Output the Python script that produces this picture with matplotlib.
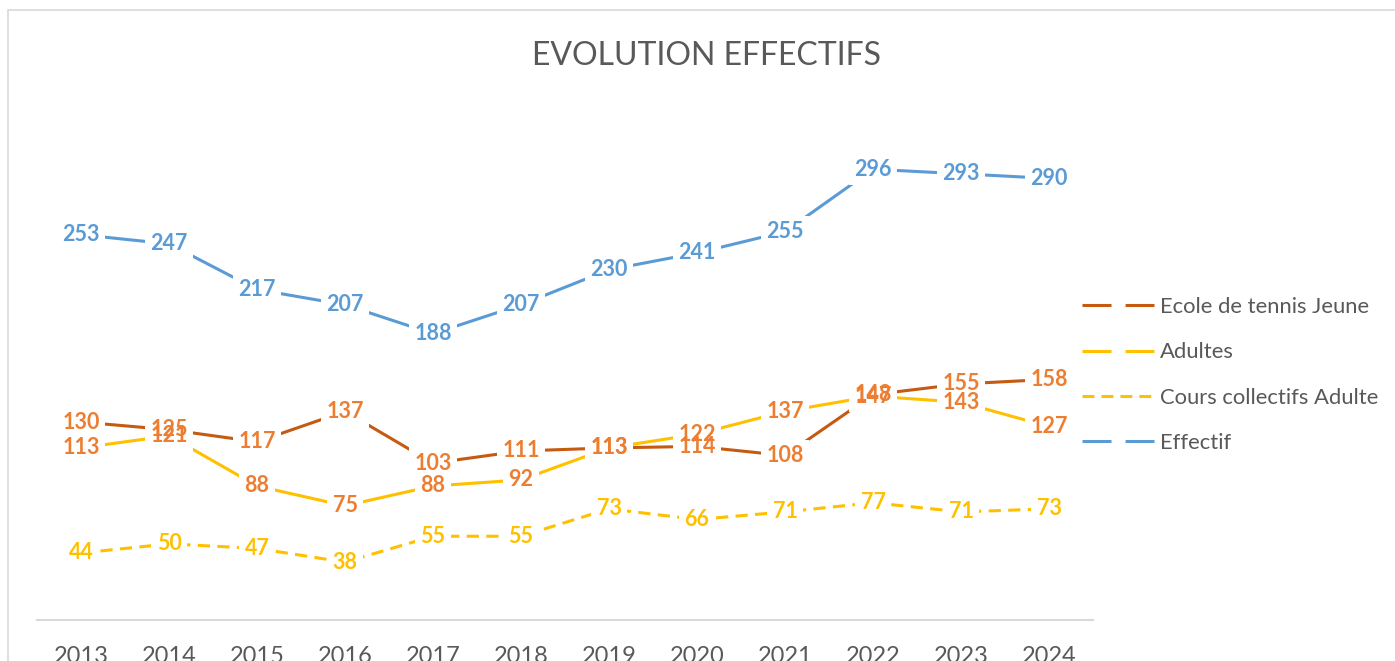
import matplotlib.pyplot as plt
from matplotlib.lines import Line2D
from matplotlib.patches import Rectangle

years = ['2013', '2014', '2015', '2016', '2017', '2018', '2019', '2020', '2021', '2022', '2023', '2024']
ecole = [130, 125, 117, 137, 103, 111, 113, 114, 108, 148, 155, 158]
adultes = [113, 121, 88, 75, 88, 92, 113, 122, 137, 147, 143, 127]
cours = [44, 50, 47, 38, 55, 55, 73, 66, 71, 77, 71, 73]
effectif = [253, 247, 217, 207, 188, 207, 230, 241, 255, 296, 293, 290]

names = ['Ecole de tennis Jeune', 'Adultes', 'Cours collectifs Adulte', 'Effectif']
line_colors = ['#C55A11', '#FFC000', '#FFC000', '#5B9BD5']
label_colors = ['#ED7D31', '#ED7D31', '#FFC000', '#5B9BD5']

plt.rcParams['font.family'] = ['Lato', 'DejaVu Sans']

fig = plt.figure(figsize=(13.95, 6.61), dpi=100)
fig.patches.append(Rectangle((8 / 1395, -0.1), 1.2, (661 - 10) / 661 + 0.1,
                             transform=fig.transFigure, fill=False,
                             edgecolor='#D9D9D9', lw=1.2))
ax = fig.add_axes([37 / 1395, 41 / 661, 1056 / 1395, 533 / 661])

x = list(range(len(years)))
lw = 2.2
series = [ecole, adultes, cours, effectif]
for i, vals in enumerate(series):
    ls = (0, (4, 2.4)) if i == 2 else '-'
    ax.plot(x, vals, color=line_colors[i], lw=lw, linestyle=ls, zorder=2)
    for xi, v in zip(x, vals):
        # white box hides the line under the label, but not other labels
        ax.text(xi, v, str(v), ha='center', va='center', fontsize=15.5,
                fontweight='bold', color='none', zorder=2.5,
                bbox=dict(boxstyle='square,pad=0.25', fc='white', ec='none'))
        ax.text(xi, v, str(v), ha='center', va='center', fontsize=15.5,
                fontweight='bold', color=label_colors[i], zorder=3)

ax.set_xlim(-0.5, len(years) - 0.5)
ax.set_ylim(0, 350)
ax.set_xticks(x)
ax.set_xticklabels(years, fontsize=17, color='#595959')
ax.tick_params(axis='x', length=0, pad=19)
ax.set_yticks([])
for s in ['top', 'right', 'left']:
    ax.spines[s].set_visible(False)
ax.spines['bottom'].set_color('#D9D9D9')
ax.spines['bottom'].set_linewidth(1.5)

fig.text(706 / 1395, 1 - 56 / 661, 'EVOLUTION EFFECTIFS', ha='center', va='center',
         fontsize=23, color='#595959')

handles = []
for i in range(4):
    if i == 2:
        d = (3.9, 2.3)
    else:
        d = (9.5, 4.6)
    handles.append(Line2D([0], [0], color=line_colors[i], lw=lw, dashes=d))
leg = fig.legend(handles, names, loc='center left',
                 bbox_to_anchor=(1082 / 1395, 1 - 375 / 661), frameon=False,
                 fontsize=15.8, handlelength=3.3, handletextpad=0.25,
                 labelspacing=1.15, borderpad=0, borderaxespad=0)
for t in leg.get_texts():
    t.set_color('#595959')

fig.savefig('out.png', dpi=100)
